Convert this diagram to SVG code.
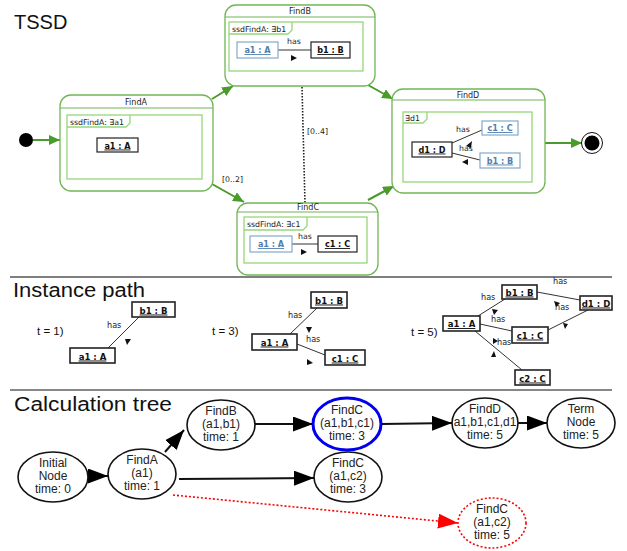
<svg xmlns="http://www.w3.org/2000/svg" width="627" height="551" viewBox="0 0 627 551">
<style>
.bg{fill:#fff}
.title{font-family:"Liberation Sans",Arial,sans-serif;font-size:20px;fill:#111}
.st{fill:#fff;stroke:#72b556;stroke-width:1.3}
.hd{stroke:#72b556;stroke-width:1.1;fill:none}
.in{fill:none;stroke:#97d87a;stroke-width:1.3}
.sm{font-family:"DejaVu Sans",Verdana,sans-serif;font-size:7.8px;fill:#222}
.hs{font-family:"DejaVu Sans Condensed","DejaVu Sans",sans-serif;font-stretch:condensed;font-size:9px;fill:#222}
.nm{font-family:"DejaVu Sans",Verdana,sans-serif;font-size:8px;fill:#222;text-anchor:middle}
.ob{fill:#fff;stroke:#222;stroke-width:1.2}
.obb{fill:#fff;stroke:#84a9cb;stroke-width:1.2}
.ot{font-family:"DejaVu Sans Condensed","DejaVu Sans",sans-serif;font-stretch:condensed;font-weight:bold;font-size:9px;fill:#111;text-anchor:middle;text-decoration:underline}
.otb{font-family:"DejaVu Sans Condensed","DejaVu Sans",sans-serif;font-stretch:condensed;font-weight:bold;font-size:9px;fill:#4f80ad;text-anchor:middle;text-decoration:underline}
.oti{font-family:"DejaVu Sans Condensed","DejaVu Sans",sans-serif;font-stretch:condensed;font-weight:bold;font-size:9.5px;fill:#111;text-anchor:middle;text-decoration:underline}
.ln{stroke:#333;stroke-width:1;fill:none}
.tri{fill:#111}
.ga{stroke:#4a9a2c;stroke-width:2;fill:none}
.lbl{font-family:"Liberation Sans",Arial,sans-serif;font-size:11.5px;fill:#111}
.ipb{fill:#fff;stroke:#222;stroke-width:1.6}
.el{fill:#fff;stroke:#111;stroke-width:1.6}
.et{font-family:"Liberation Sans",Arial,sans-serif;font-size:12px;fill:#222;text-anchor:middle}
.ea{stroke:#111;stroke-width:2;fill:none}
</style>
<defs>
<marker id="ag" markerUnits="userSpaceOnUse" markerWidth="11" markerHeight="10" refX="11" refY="5" orient="auto"><path d="M0,0 L11,5 L0,10 z" fill="#4a9a2c"/></marker>
<marker id="ab" markerUnits="userSpaceOnUse" markerWidth="20" markerHeight="15" refX="20" refY="7.5" orient="auto"><path d="M0,0 L20,7.5 L0,15 z" fill="#000"/></marker>
<marker id="ar" markerUnits="userSpaceOnUse" markerWidth="20" markerHeight="15" refX="20" refY="7.5" orient="auto"><path d="M0,0 L20,7.5 L0,15 z" fill="#f00"/></marker>
</defs>
<rect class="bg" x="0" y="0" width="627" height="551"/>

<!-- section titles and separators -->
<text class="title" x="14" y="29" font-size="21">TSSD</text>
<text class="title" x="13" y="297" textLength="132" lengthAdjust="spacingAndGlyphs">Instance path</text>
<text class="title" x="14" y="411" textLength="158" lengthAdjust="spacingAndGlyphs">Calculation  tree</text>
<line x1="10" y1="277" x2="612" y2="277" stroke="#555" stroke-width="1.5"/>
<line x1="10" y1="390" x2="612" y2="390" stroke="#111" stroke-width="1"/>

<!-- TSSD connectors -->
<g id="tssd-connectors">
<circle cx="26" cy="140" r="7" fill="#000"/>
<path class="ga" d="M33,140 H60" marker-end="url(#ag)"/>
<path class="ga" d="M212,99 L233,86" marker-end="url(#ag)"/>
<path class="ga" d="M212,184 L244,202" marker-end="url(#ag)"/>
<path class="ga" d="M368,85 L393,99" marker-end="url(#ag)"/>
<path class="ga" d="M368,200 L394,186" marker-end="url(#ag)"/>
<path class="ga" d="M545,143 H582" marker-end="url(#ag)"/>
<path d="M302,87 L305,203" stroke="#222" stroke-width="1.6" stroke-dasharray="1.5,1.5" fill="none"/>
<text class="sm" x="222" y="182" font-size="8.5">[0..2]</text>
<text class="sm" x="307" y="134" font-size="8.5">[0..4]</text>
<circle cx="592" cy="143" r="10.5" fill="#fff" stroke="#111" stroke-width="1"/>
<circle cx="592" cy="143" r="7.5" fill="#000"/>
</g>

<g id="FindA">
<rect class="st" x="60" y="95" width="153" height="96" rx="11"/>
<path class="hd" d="M60,108 H213"/>
<text class="nm" x="136" y="105">FindA</text>
<rect class="in" x="67" y="115" width="135" height="64"/>
<path class="in" d="M67,127 H126 L130,123 V115"/>
<text class="sm" x="70" y="124.5">ssdFindA: ∃a1</text>
<rect class="ob" x="97" y="138" width="41" height="14"/>
<text class="ot" x="117.5" y="148.5">a1 : A</text>
</g>

<g id="FindB">
<rect class="st" x="225" y="5" width="150" height="81" rx="11"/>
<path class="hd" d="M225,17 H375"/>
<text class="nm" x="300" y="14">FindB</text>
<rect class="in" x="229" y="22" width="134" height="49"/>
<path class="in" d="M229,34 H288 L292,30 V22"/>
<text class="sm" x="232" y="31.5">ssdFindA: ∃b1</text>
<path class="ln" d="M278,50 H311"/>
<text class="sm" x="287" y="44">has</text>
<path class="tri" d="M291,55 L297,58 L291,61 z"/>
<rect class="obb" x="237" y="42" width="41" height="16"/>
<text class="otb" x="257.5" y="53">a1 : A</text>
<rect class="ob" x="311" y="42" width="39" height="16"/>
<text class="ot" x="330.5" y="53">b1 : B</text>
</g>

<g id="FindC">
<rect class="st" x="237" y="203" width="141" height="72" rx="11"/>
<path class="hd" d="M237,212 H378"/>
<text class="nm" x="308" y="209.5">FindC</text>
<rect class="in" x="244" y="217" width="123" height="46"/>
<path class="in" d="M244,230 H303 L307,226 V217"/>
<text class="sm" x="247" y="226.5">ssdFindA: ∃c1</text>
<path class="ln" d="M292,244 H318"/>
<text class="sm" x="298" y="239">has</text>
<path class="tri" d="M301,249 L307,252 L301,255 z"/>
<rect class="obb" x="250" y="236" width="42" height="16"/>
<text class="otb" x="271" y="247">a1 : A</text>
<rect class="ob" x="318" y="236" width="39" height="16"/>
<text class="ot" x="337.5" y="247">c1 : C</text>
</g>

<g id="FindD">
<rect class="st" x="392" y="89" width="153" height="104" rx="11"/>
<path class="hd" d="M392,100 H545"/>
<text class="nm" x="468" y="97.5">FindD</text>
<rect class="in" x="403" y="112" width="129" height="70"/>
<path class="in" d="M403,123 H423 L427,119 V112"/>
<text class="sm" x="405" y="121">∃d1</text>
<path class="ln" d="M452,143 L482,130"/>
<path class="ln" d="M452,153 L480,160"/>
<text class="sm" x="456" y="132">has</text>
<text class="sm" x="459" y="151">has</text>
<path class="tri" d="M466,146 L472,141 L471,148 z"/>
<path class="tri" d="M462,162 L468,159 L468,165 z"/>
<rect class="ob" x="412" y="142" width="40" height="15"/>
<text class="ot" x="432" y="152.5">d1 : D</text>
<rect class="obb" x="482" y="121" width="36" height="14"/>
<text class="otb" x="500" y="131">c1 : C</text>
<rect class="obb" x="480" y="153" width="40" height="15"/>
<text class="otb" x="500" y="163.5">b1 : B</text>
</g>

<!-- Instance path -->
<g id="inst-t1">
<text class="lbl" x="37" y="335">t = 1)</text>
<path class="ln" d="M108,348 L139,317"/>
<text class="hs" x="107" y="328">has</text>
<path class="tri" d="M125,339 L131,339 L127,345 z"/>
<rect class="ipb" x="132" y="302" width="43" height="15"/>
<text class="oti" x="153.5" y="313.5">b1 : B</text>
<rect class="ipb" x="70" y="348" width="45" height="15"/>
<text class="oti" x="92.5" y="359.5">a1 : A</text>
</g>

<g id="inst-t3">
<text class="lbl" x="212" y="335">t = 3)</text>
<path class="ln" d="M290,334 L317,308"/>
<path class="ln" d="M297,344 L325,355"/>
<text class="hs" x="288" y="318">has</text>
<text class="hs" x="306" y="342">has</text>
<path class="tri" d="M306,327 L312,327 L309,333 z"/>
<path class="tri" d="M307,359 L313,363 L307,365 z"/>
<rect class="ipb" x="311" y="292" width="36" height="16"/>
<text class="oti" x="329" y="303.5">b1 : B</text>
<rect class="ipb" x="252" y="334" width="45" height="16"/>
<text class="oti" x="274.5" y="345.5">a1 : A</text>
<rect class="ipb" x="325" y="350" width="40" height="15"/>
<text class="oti" x="345" y="361.5">c1 : C</text>
</g>

<g id="inst-t5">
<text class="lbl" x="411" y="336">t = 5)</text>
<path class="ln" d="M478,316 L505,299"/>
<path class="ln" d="M537,292 L580,300"/>
<path class="ln" d="M588,310 L548,330"/>
<path class="ln" d="M480,324 L512,331"/>
<path class="ln" d="M475,331 L522,370"/>
<text class="hs" x="481" y="300">has</text>
<text class="hs" x="553" y="284">has</text>
<text class="hs" x="555" y="310">has</text>
<text class="hs" x="491" y="322">has</text>
<text class="hs" x="497" y="345">has</text>
<path class="tri" d="M492,309 L498,310 L494,315 z"/>
<path class="tri" d="M554,301 L560,303 L556,307 z"/>
<path class="tri" d="M563,323 L568,324 L565,329 z"/>
<path class="tri" d="M493,338 L498,341 L493,344 z"/>
<path class="tri" d="M491,357 L494,351 L496,357 z"/>
<rect class="ipb" x="502" y="285" width="35" height="14"/>
<text class="oti" x="519.5" y="295.5">b1 : B</text>
<rect class="ipb" x="580" y="296" width="32" height="14"/>
<text class="oti" x="596" y="306.5">d1 : D</text>
<rect class="ipb" x="443" y="316" width="37" height="15"/>
<text class="oti" x="461.5" y="327">a1 : A</text>
<rect class="ipb" x="512" y="327" width="36" height="16"/>
<text class="oti" x="530" y="338.5">c1 : C</text>
<rect class="ipb" x="515" y="370" width="35" height="15"/>
<text class="oti" x="532.5" y="381.5">c2 : C</text>
</g>

<!-- Calculation tree connectors -->
<g id="tree-connectors">
<path class="ea" d="M88,476 H108" marker-end="url(#ab)"/>
<path class="ea" d="M165,452 L184,430" marker-end="url(#ab)"/>
<path class="ea" d="M255,424 H313" marker-end="url(#ab)"/>
<path class="ea" d="M179,479 L314,478" marker-end="url(#ab)"/>
<path class="ea" d="M382,424 L452,423" marker-end="url(#ab)"/>
<path class="ea" d="M518,423 H547" marker-end="url(#ab)"/>
<path d="M173,495 L458,523" stroke="#f00" stroke-width="1.6" stroke-dasharray="2,2" fill="none" marker-end="url(#ar)"/>
</g>

<g id="n-initial">
<ellipse class="el" cx="53" cy="477" rx="35" ry="25"/>
<text class="et" x="53" y="467">Initial</text>
<text class="et" x="53" y="480">Node</text>
<text class="et" x="53" y="493">time: 0</text>
</g>
<g id="n-findA">
<ellipse class="el" cx="142" cy="474" rx="34" ry="25"/>
<text class="et" x="142" y="464">FindA</text>
<text class="et" x="142" y="477">(a1)</text>
<text class="et" x="142" y="490">time: 1</text>
</g>
<g id="n-findB">
<ellipse class="el" cx="221" cy="425" rx="34" ry="25"/>
<text class="et" x="221" y="415">FindB</text>
<text class="et" x="221" y="428">(a1,b1)</text>
<text class="et" x="221" y="441">time: 1</text>
</g>
<g id="n-findC1">
<ellipse cx="347" cy="424" rx="34" ry="26" fill="#fff" stroke="#0000ee" stroke-width="3"/>
<text class="et" x="347" y="414">FindC</text>
<text class="et" x="347" y="427">(a1,b1,c1)</text>
<text class="et" x="347" y="440">time: 3</text>
</g>
<g id="n-findD">
<ellipse class="el" cx="485" cy="423" rx="33" ry="25"/>
<text class="et" x="485" y="413">FindD</text>
<text class="et" x="485" y="426">a1,b1,c1,d1</text>
<text class="et" x="485" y="439">time: 5</text>
</g>
<g id="n-term">
<ellipse class="el" cx="581" cy="423" rx="34" ry="25"/>
<text class="et" x="581" y="413">Term</text>
<text class="et" x="581" y="426">Node</text>
<text class="et" x="581" y="439">time: 5</text>
</g>
<g id="n-findC2">
<ellipse class="el" cx="348" cy="477" rx="34" ry="25"/>
<text class="et" x="348" y="467">FindC</text>
<text class="et" x="348" y="480">(a1,c2)</text>
<text class="et" x="348" y="493">time: 3</text>
</g>
<g id="n-findC3">
<ellipse cx="492" cy="523" rx="34" ry="25" fill="#fff" stroke="#f00" stroke-width="1.6" stroke-dasharray="2,2"/>
<text class="et" x="492" y="513">FindC</text>
<text class="et" x="492" y="526">(a1,c2)</text>
<text class="et" x="492" y="539">time: 5</text>
</g>
</svg>
